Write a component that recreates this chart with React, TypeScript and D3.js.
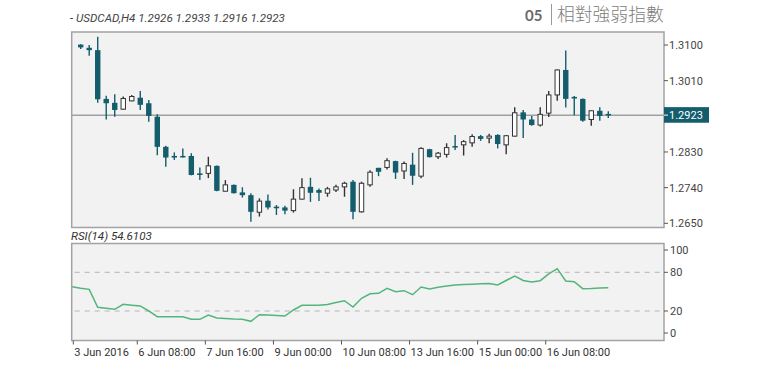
import { useEffect, useRef } from 'react';
import * as d3 from 'd3';

// H4 bars, 3 Jun 2016 04:00 onward
const opens = [
  1.3101, 1.3093, 1.3087, 1.2964, 1.2954, 1.2938, 1.2959, 1.2967, 1.2953, 1.2919,
  1.2843, 1.2820, 1.2820, 1.2820, 1.2776, 1.2776, 1.2795, 1.2731, 1.2747, 1.2728,
  1.2721, 1.2678, 1.2707, 1.2692, 1.2690, 1.2682, 1.2711, 1.2742, 1.2734, 1.2726,
  1.2734, 1.2742, 1.2755, 1.2679, 1.2747, 1.2790, 1.2791, 1.2807, 1.2782, 1.2798,
  1.2769, 1.2837, 1.2818, 1.2824, 1.2845, 1.2848, 1.2853, 1.2870, 1.2865, 1.2873,
  1.2848, 1.2870, 1.2930, 1.2912, 1.2898, 1.2928, 1.2974, 1.3037, 1.2969, 1.2964,
  1.2912, 1.2934, 1.2926,
];
const highs = [
  1.3102, 1.3100, 1.3121, 1.2972, 1.2976, 1.2970, 1.2974, 1.2984, 1.2961, 1.2925,
  1.2846, 1.2829, 1.2839, 1.2827, 1.2791, 1.2818, 1.2796, 1.2759, 1.2748, 1.2741,
  1.2726, 1.2713, 1.2723, 1.2696, 1.2694, 1.2736, 1.2764, 1.2765, 1.2738, 1.2742,
  1.2747, 1.2755, 1.2759, 1.2755, 1.2784, 1.2790, 1.2814, 1.2808, 1.2806, 1.2828,
  1.2842, 1.2838, 1.2830, 1.2852, 1.2873, 1.2860, 1.2875, 1.2873, 1.2876, 1.2875,
  1.2873, 1.2943, 1.2936, 1.2921, 1.2943, 1.2984, 1.3038, 1.3086, 1.2971, 1.2965,
  1.2935, 1.2943, 1.2933,
];
const lows = [
  1.3090, 1.3073, 1.2954, 1.2912, 1.2919, 1.2937, 1.2958, 1.2936, 1.2906, 1.2822,
  1.2793, 1.2810, 1.2816, 1.2771, 1.2759, 1.2764, 1.2731, 1.2730, 1.2725, 1.2715,
  1.2654, 1.2667, 1.2685, 1.2671, 1.2673, 1.2677, 1.2710, 1.2704, 1.2706, 1.2717,
  1.2729, 1.2717, 1.2660, 1.2677, 1.2742, 1.2769, 1.2786, 1.2762, 1.2762, 1.2747,
  1.2764, 1.2816, 1.2812, 1.2816, 1.2835, 1.2821, 1.2843, 1.2858, 1.2852, 1.2839,
  1.2824, 1.2869, 1.2865, 1.2896, 1.2894, 1.2918, 1.2959, 1.2942, 1.2923, 1.2906,
  1.2896, 1.2909, 1.2916,
];
const closes = [
  1.3094, 1.3087, 1.2963, 1.2953, 1.2936, 1.2965, 1.2970, 1.2949, 1.2921, 1.2843,
  1.2816, 1.2816, 1.2817, 1.2772, 1.2772, 1.2795, 1.2732, 1.2747, 1.2726, 1.2721,
  1.2679, 1.2706, 1.2690, 1.2688, 1.2682, 1.2711, 1.2740, 1.2727, 1.2727, 1.2737,
  1.2742, 1.2751, 1.2679, 1.2751, 1.2779, 1.2780, 1.2808, 1.2778, 1.2801, 1.2770,
  1.2839, 1.2817, 1.2827, 1.2841, 1.2842, 1.2856, 1.2869, 1.2863, 1.2870, 1.2850,
  1.2871, 1.2929, 1.2912, 1.2898, 1.2925, 1.2974, 1.3037, 1.2964, 1.2965, 1.2909,
  1.2934, 1.2921, 1.2923,
];

// RSI starts one bar earlier (3 Jun 00:00), that candle is off the left edge
const rsi = [
  57.7, 55.3, 53.6, 25.7, 24.3, 22.6, 30.4, 29.0, 27.8, 20.0,
  11.2, 11.2, 11.2, 11.2, 7.1, 7.1, 13.8, 9.1, 8.4, 7.6,
  7.1, 4.0, 14.3, 13.8, 13.0, 12.2, 21.6, 28.8, 28.8, 28.8,
  30.1, 33.2, 36.0, 26.2, 39.7, 46.7, 47.4, 55.2, 49.9, 51.5,
  45.3, 57.2, 54.1, 56.7, 58.8, 60.3, 60.9, 61.6, 62.2, 62.8,
  60.3, 67.3, 74.3, 67.3, 65.0, 67.0, 77.4, 85.6, 66.5, 65.4,
  54.6, 55.0, 55.7, 56.1,
];

const xLabels = ['3 Jun 2016', '6 Jun 08:00', '7 Jun 16:00', '9 Jun 00:00', '10 Jun 08:00', '13 Jun 16:00', '15 Jun 00:00', '16 Jun 08:00'];
const xLabelBars = [-1, 7, 15, 23, 31, 39, 47, 55];

const priceTicks = [1.31, 1.301, 1.283, 1.274, 1.265];
const rsiLevels = [80, 20];
const lastPrice = 1.2923;

const TEAL = '#135d6c';
const FONT = 'Roboto, sans-serif';

export default function App() {
  const svgRef = useRef<SVGSVGElement>(null);

  useEffect(() => {
    if (!svgRef.current) return;
    const svg = d3.select(svgRef.current);
    svg.selectAll('*').remove();

    const left = 71.7;
    const right = 664;
    const main = { top: 32, bottom: 227.5 };
    const sub = { top: 243.5, bottom: 340.5 };

    const x = d3.scaleLinear().domain([0, opens.length - 1]).range([80.7, 608.3]);
    const y = d3.scaleLinear().domain([1.265, 1.31]).range([223.3, 45]);
    const yr = d3.scaleLinear().domain([20, 80]).range([311, 272.3]);

    // header
    svg.append('text')
      .attr('x', 70).attr('y', 21.5)
      .attr('fill', '#444').style('font-family', FONT).style('font-size', '11.6px').style('font-style', 'italic')
      .text('- USDCAD,H4 1.2926 1.2933 1.2916 1.2923');

    svg.append('text')
      .attr('x', 525).attr('y', 21)
      .attr('fill', '#6a6a6a').style('font-family', 'Lato, sans-serif').style('font-size', '15px').style('font-weight', 'bold')
      .text('05');
    svg.append('line')
      .attr('x1', 551.5).attr('x2', 551.5).attr('y1', 4).attr('y2', 25)
      .attr('stroke', '#999').attr('stroke-width', 1);
    svg.append('text')
      .attr('x', 557).attr('y', 20.5)
      .attr('fill', '#808080').style('font-family', '"Noto Sans CJK TC", sans-serif').style('font-size', '17.8px').style('font-weight', 300)
      .text('相對強弱指數');

    // main panel
    svg.append('rect')
      .attr('x', left).attr('y', main.top).attr('width', right - left).attr('height', main.bottom - main.top)
      .attr('fill', '#f2f2f2').attr('stroke', '#a3a3a3').attr('stroke-width', 1.5);

    svg.append('line')
      .attr('x1', left).attr('x2', right).attr('y1', y(lastPrice)).attr('y2', y(lastPrice))
      .attr('stroke', '#a0a0a0').attr('stroke-width', 1.5);

    const candles = svg.append('g');
    opens.forEach((o, i) => {
      const c = closes[i];
      const up = c > o;
      const cx = x(i);
      candles.append('line')
        .attr('x1', cx).attr('x2', cx).attr('y1', y(highs[i])).attr('y2', y(lows[i]))
        .attr('stroke', up ? '#333' : TEAL).attr('stroke-width', 1.4);
      const top = y(Math.max(o, c));
      const h = Math.max(y(Math.min(o, c)) - top, 1.5);
      if (up) {
        candles.append('rect')
          .attr('x', cx - 2.2).attr('y', top).attr('width', 4.4).attr('height', h)
          .attr('fill', '#fff').attr('stroke', '#333').attr('stroke-width', 1);
      } else {
        candles.append('rect')
          .attr('x', cx - 2.7).attr('y', top).attr('width', 5.4).attr('height', h)
          .attr('fill', TEAL);
      }
    });

    // price axis
    const pa = svg.append('g');
    priceTicks.forEach((p) => {
      pa.append('line').attr('x1', right).attr('x2', right + 4).attr('y1', y(p)).attr('y2', y(p))
        .attr('stroke', '#555').attr('stroke-width', 1);
      pa.append('text').attr('x', right + 5).attr('y', y(p) + 4)
        .attr('fill', '#444').style('font-family', FONT).style('font-size', '11px')
        .text(p.toFixed(4));
    });
    pa.append('rect')
      .attr('x', right).attr('y', y(lastPrice) - 8).attr('width', 45).attr('height', 15.6)
      .attr('fill', TEAL);
    pa.append('line').attr('x1', right).attr('x2', right + 4).attr('y1', y(lastPrice)).attr('y2', y(lastPrice))
      .attr('stroke', '#fff').attr('stroke-width', 1);
    pa.append('text').attr('x', right + 5).attr('y', y(lastPrice) + 4)
      .attr('fill', '#fff').style('font-family', FONT).style('font-size', '11px')
      .text(lastPrice.toFixed(4));

    // RSI panel
    svg.append('text')
      .attr('x', 71).attr('y', 239.5)
      .attr('fill', '#333').style('font-family', FONT).style('font-size', '11.6px').style('font-style', 'italic')
      .text(`RSI(14) ${(54.6103).toFixed(4)}`);

    svg.append('rect')
      .attr('x', left).attr('y', sub.top).attr('width', right - left).attr('height', sub.bottom - sub.top)
      .attr('fill', '#f2f2f2').attr('stroke', '#a3a3a3').attr('stroke-width', 1.5);

    rsiLevels.forEach((lv) => {
      svg.append('line')
        .attr('x1', left + 3).attr('x2', right - 2).attr('y1', yr(lv)).attr('y2', yr(lv))
        .attr('stroke', '#b5b5b5').attr('stroke-width', 1).attr('stroke-dasharray', '5,5');
    });

    const rsiLine = d3.line<number>()
      .x((_, i) => Math.max(x(i - 1), left))
      .y((d) => yr(d));
    svg.append('path')
      .datum(rsi)
      .attr('fill', 'none').attr('stroke', '#52b57c').attr('stroke-width', 1.5)
      .attr('d', rsiLine);

    const ra = svg.append('g');
    const rsiLabels = [
      { t: '100', yy: sub.top + 6.5 },
      { t: '80', yy: yr(80) },
      { t: '20', yy: yr(20) },
      { t: '0', yy: sub.bottom - 7.5 },
    ];
    rsiLabels.forEach((r) => {
      ra.append('line').attr('x1', right).attr('x2', right + 4).attr('y1', r.yy).attr('y2', r.yy)
        .attr('stroke', '#555').attr('stroke-width', 1);
      ra.append('text').attr('x', right + 6).attr('y', r.yy + 4)
        .attr('fill', '#444').style('font-family', FONT).style('font-size', '11px')
        .text(r.t);
    });

    // time axis
    const ta = svg.append('g');
    xLabels.forEach((lab, k) => {
      const px = Math.max(x(xLabelBars[k]) - 3, left + 1.6);
      ta.append('line').attr('x1', px).attr('x2', px).attr('y1', sub.bottom).attr('y2', sub.bottom + 4)
        .attr('stroke', '#555').attr('stroke-width', 1);
      ta.append('text').attr('x', px + 1).attr('y', 355.5)
        .attr('fill', '#333').style('font-family', FONT).style('font-size', '11px')
        .text(lab);
    });
  }, []);

  return (
    <svg
      ref={svgRef}
      width={766}
      height={373}
      style={{ position: 'absolute', left: 0, top: 0, background: '#fff' }}
    />
  );
}
